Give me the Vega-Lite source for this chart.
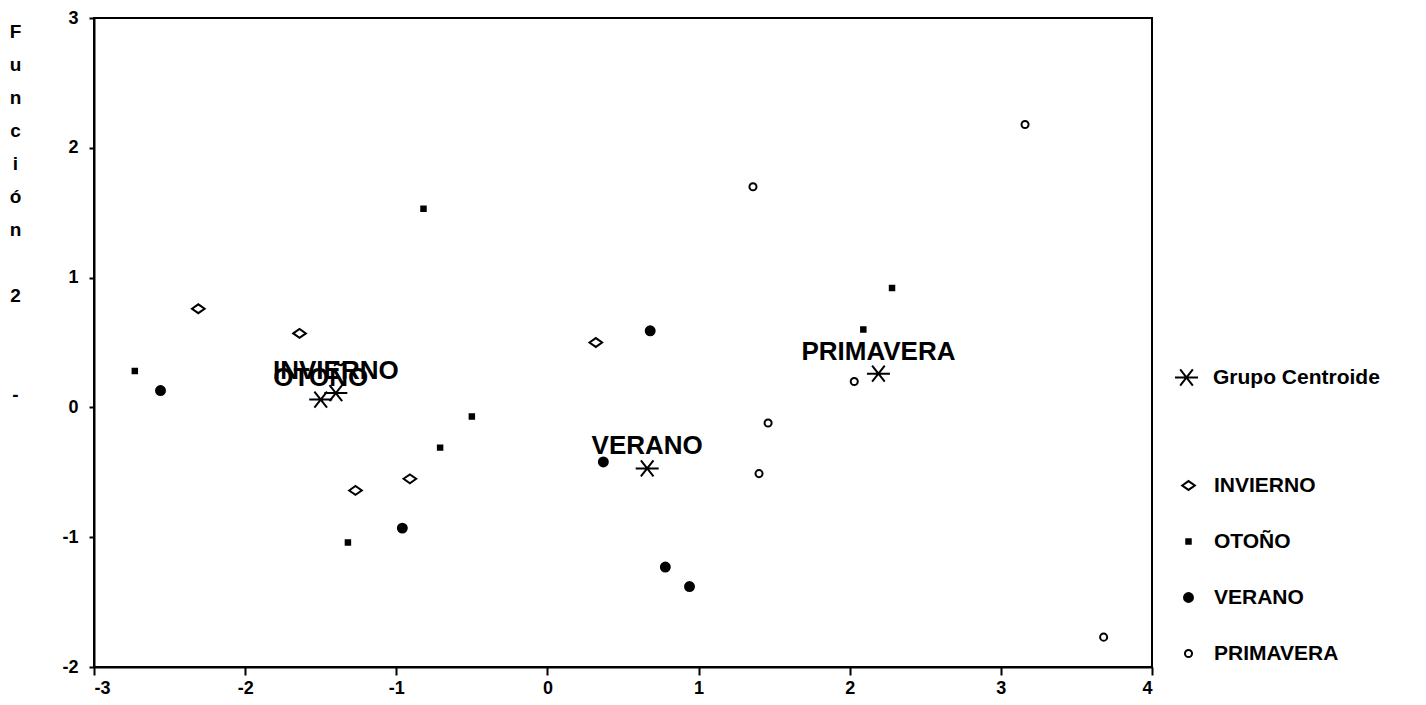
{
  "$schema": "https://vega.github.io/schema/vega-lite/v6.json",
  "width": 1058,
  "height": 649,
  "autosize": {"type": "none"},
  "padding": {"left": 94, "top": 18, "right": 274, "bottom": 38},
  "background": "white",
  "config": {
    "font": "Liberation Sans",
    "view": {"stroke": "black", "strokeWidth": 2},
    "axis": {
      "grid": false,
      "domainColor": "black",
      "domainWidth": 2,
      "tickColor": "black",
      "tickWidth": 2,
      "labelColor": "black",
      "labelFont": "Liberation Sans",
      "labelFontWeight": "bold",
      "labelFontSize": 18,
      "labelExpr": "toString(datum.value)"
    },
    "legend": {
      "padding": 0,
      "labelFont": "Liberation Sans",
      "labelFontWeight": "bold",
      "labelFontSize": 21,
      "labelColor": "black",
      "labelLimit": 400,
      "symbolStrokeColor": "black",
      "symbolStrokeWidth": 2,
      "rowPadding": 34
    }
  },
  "datasets": {
    "puntos": [
      {"x": -2.31, "y": 0.76, "grupo": "INVIERNO"},
      {"x": -1.64, "y": 0.57, "grupo": "INVIERNO"},
      {"x": -1.27, "y": -0.64, "grupo": "INVIERNO"},
      {"x": -0.91, "y": -0.55, "grupo": "INVIERNO"},
      {"x": 0.32, "y": 0.50, "grupo": "INVIERNO"},
      {"x": -2.73, "y": 0.28, "grupo": "OTOÑO"},
      {"x": -0.82, "y": 1.53, "grupo": "OTOÑO"},
      {"x": -0.50, "y": -0.07, "grupo": "OTOÑO"},
      {"x": -0.71, "y": -0.31, "grupo": "OTOÑO"},
      {"x": -1.32, "y": -1.04, "grupo": "OTOÑO"},
      {"x": 2.09, "y": 0.60, "grupo": "OTOÑO"},
      {"x": 2.28, "y": 0.92, "grupo": "OTOÑO"},
      {"x": -2.56, "y": 0.13, "grupo": "VERANO"},
      {"x": -0.96, "y": -0.93, "grupo": "VERANO"},
      {"x": 0.68, "y": 0.59, "grupo": "VERANO"},
      {"x": 0.37, "y": -0.42, "grupo": "VERANO"},
      {"x": 0.78, "y": -1.23, "grupo": "VERANO"},
      {"x": 0.94, "y": -1.38, "grupo": "VERANO"},
      {"x": 1.36, "y": 1.70, "grupo": "PRIMAVERA"},
      {"x": 3.16, "y": 2.18, "grupo": "PRIMAVERA"},
      {"x": 2.03, "y": 0.20, "grupo": "PRIMAVERA"},
      {"x": 1.46, "y": -0.12, "grupo": "PRIMAVERA"},
      {"x": 1.40, "y": -0.51, "grupo": "PRIMAVERA"},
      {"x": 3.68, "y": -1.77, "grupo": "PRIMAVERA"}
    ],
    "centroides": [
      {"x": -1.40, "y": 0.11, "grupo": "INVIERNO", "leyenda": "Grupo Centroide"},
      {"x": -1.50, "y": 0.06, "grupo": "OTOÑO", "leyenda": "Grupo Centroide"},
      {"x": 0.66, "y": -0.47, "grupo": "VERANO", "leyenda": "Grupo Centroide"},
      {"x": 2.19, "y": 0.26, "grupo": "PRIMAVERA", "leyenda": "Grupo Centroide"}
    ]
  },
  "layer": [
    {
      "data": {"name": "puntos"},
      "mark": {"type": "point", "filled": true, "stroke": "black", "strokeWidth": 2, "opacity": 1},
      "encoding": {
        "x": {
          "field": "x", "type": "quantitative",
          "scale": {"domain": [-3, 4], "nice": false, "zero": false},
          "axis": {"values": [-3, -2, -1, 0, 1, 2, 3, 4], "tickSize": 8, "labelPadding": 4, "title": null}
        },
        "y": {
          "field": "y", "type": "quantitative",
          "scale": {"domain": [-2, 3], "nice": false, "zero": false},
          "axis": {
            "values": [-2, -1, 0, 1, 2, 3], "tickSize": 5, "labelPadding": 11,
            "title": ["F", "u", "n", "c", "i", "ó", "n", "\u200b", "2", "\u200b", "\u200b", "-"],
            "titleAngle": 0, "titleX": -79, "titleY": 4, "titleAlign": "center", "titleBaseline": "top",
            "titleFontSize": 19, "titleFontWeight": "bold", "titleLineHeight": 33, "titleColor": "black"
          }
        },
        "shape": {
          "field": "grupo", "type": "nominal",
          "scale": {"domain": ["INVIERNO", "OTOÑO", "VERANO", "PRIMAVERA"], "range": ["M-1,0L0,-0.7L1,0L0,0.7Z", "square", "circle", "circle"]},
          "legend": {"title": null, "orient": "none", "legendX": 1084, "legendY": 457, "labelOffset": 15, "symbolFillColor": "white"}
        },
        "size": {
          "field": "grupo", "type": "nominal",
          "scale": {"type": "ordinal", "domain": ["INVIERNO", "OTOÑO", "VERANO", "PRIMAVERA"], "range": [160, 20, 80, 50]},
          "legend": {"title": null, "orient": "none", "legendX": 1084, "legendY": 457, "labelOffset": 15, "symbolFillColor": "white"}
        },
        "fill": {
          "field": "grupo", "type": "nominal",
          "scale": {"domain": ["INVIERNO", "OTOÑO", "VERANO", "PRIMAVERA"], "range": ["white", "black", "black", "white"]},
          "legend": {"title": null, "orient": "none", "legendX": 1084, "legendY": 457, "labelOffset": 15, "symbolFillColor": "white"}
        }
      }
    },
    {
      "data": {"name": "centroides"},
      "mark": {"type": "point", "filled": false, "stroke": "black", "strokeWidth": 2, "size": 529, "opacity": 1},
      "encoding": {
        "x": {"field": "x", "type": "quantitative"},
        "y": {"field": "y", "type": "quantitative"},
        "shape": {
          "field": "leyenda", "type": "nominal",
          "scale": {"domain": ["Grupo Centroide"], "range": ["M-1,0L1,0M-0.55,-0.7L0.55,0.7M-0.55,0.7L0.55,-0.7"]},
          "legend": {"title": null, "orient": "none", "legendX": 1080, "legendY": 347, "labelOffset": 14, "labelFontSize": 21, "symbolSize": 529, "symbolFillColor": "transparent"}
        }
      }
    },
    {
      "data": {"name": "centroides"},
      "mark": {"type": "text", "font": "Liberation Sans", "fontWeight": "bold", "fontSize": 26, "dy": -22, "align": "center", "baseline": "middle", "color": "black"},
      "encoding": {
        "x": {"field": "x", "type": "quantitative"},
        "y": {"field": "y", "type": "quantitative"},
        "text": {"field": "grupo", "type": "nominal"}
      }
    }
  ],
  "resolve": {
    "scale": {"shape": "independent", "size": "independent", "fill": "independent"},
    "legend": {"shape": "independent", "size": "independent", "fill": "independent"}
  }
}
